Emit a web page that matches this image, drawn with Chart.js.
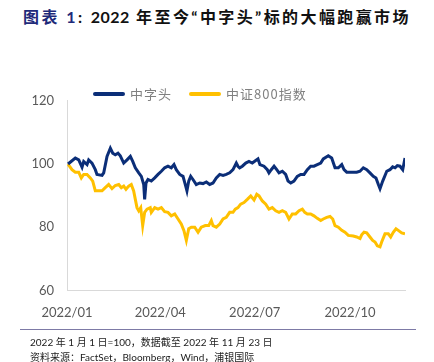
<!DOCTYPE html>
<html>
<head>
<meta charset="utf-8">
<script src="https://cdn.jsdelivr.net/npm/chart.js@4.4.0/dist/chart.umd.min.js"></script>
<style>
  html, body { margin: 0; padding: 0; background: #fff; }
  body { width: 434px; height: 362px; position: relative; overflow: hidden; font-family: "Lato", "Noto Sans CJK SC", sans-serif; }
  #title { position: absolute; left: 0; top: 4px; width: 434px; text-align: center; font-size: 16px; font-weight: bold; color: #111; letter-spacing: 2.4px; white-space: nowrap; }
  #title .tag { color: #1f2a7a; }
  #title .num { letter-spacing: 0.5px; }
  #wrap { position: absolute; left: 0; top: 80px; width: 434px; height: 256px; }
  #legend { position: absolute; top: 84px; left: 93px; font-family: "Noto Sans CJK SC", sans-serif; font-size: 13px; color: #808080; letter-spacing: 1px; display: flex; align-items: center; white-space: nowrap; }
  #legend .ln { display: inline-block; width: 32px; height: 4px; border-radius: 2px; margin-right: 5px; }
  #legend .item { display: flex; align-items: center; margin-right: 17px; }
  #rule { position: absolute; left: 20px; top: 329px; width: 396px; height: 0; border-top: 1.5px solid #7d7aa6; }
  .note { position: absolute; left: 30px; font-size: 10px; color: #222; white-space: nowrap; }
</style>
</head>
<body>
<div id="title"><span class="tag">图表 1</span>: <span class="num">2022</span> 年至今“中字头”标的大幅跑赢市场</div>
<div id="wrap"><canvas id="chart"></canvas></div>
<div id="legend"></div>
<div id="rule"></div>
<div class="note" style="top:334px">2022 年 1 月 1 日=100，数据截至 2022 年 11 月 23 日</div>
<div class="note" style="top:349px">资料来源：FactSet，Bloomberg，Wind，浦银国际</div>
<script>
// days since 2022-01-01
const seriesNames = ["中字头", "中证800指数"];
const seriesColors = ["#0b2e78", "#ffc000"];

const blueDays = [1, 8, 11.3, 14.5, 16.1, 19.3, 20.9, 24.1, 27.3, 28.9, 33.8, 35.4, 38.6, 41.8, 44.1, 46.6, 49.2, 51.4, 54.7, 57.9,
  61.1, 63.4, 65.9, 69.2, 71.7, 74, 74.9, 76.2, 78.1, 81.3, 84.6, 87.8, 91, 94.2, 97.4, 100.6, 103.2, 105.4, 108.7, 111.9,
  114.1, 115.7, 117.4, 119.3, 121.5, 124.7, 128, 131.2, 134.4, 137.6, 140.8, 144, 147.3, 150.5, 153.6, 156.9, 160.1, 163.3, 164.9, 166.5,
  169.1, 172.4, 175.5, 178.7, 182, 184.2, 186.1, 190, 193.2, 194.8, 197, 199.7, 202.3, 204.5, 207.7, 210.9, 213.2, 215.8, 218.9, 222.1,
  225.4, 228.6, 231.8, 235, 238.2, 241.4, 244.7, 247.2, 252, 255.3, 258.5, 261.7, 265, 267.2, 269.8, 274.6, 279.4, 282.6, 285.8, 289.1,
  292.2, 295.4, 298, 300.3, 301.9, 304.5, 308.4, 311.5, 314.1, 316.4, 318.6, 321.2, 323.8, 326];
const blueVals = [100, 101.9, 101.3, 99, 100.8, 99.8, 101.3, 100.3, 98.2, 96.7, 96.4, 97.2, 102.4, 105, 103.4, 102.9, 103.4, 102.6, 100.3, 101.3,
  102.4, 100.8, 98.8, 97.2, 96.1, 93.5, 88.8, 94, 95.1, 94.6, 95.6, 96.7, 97.7, 98.8, 99.3, 98.8, 99.8, 98.2, 96.7, 96.1,
  93.5, 91.5, 94.6, 96.1, 95.1, 93.5, 94, 93.8, 94.3, 93.5, 94, 95.6, 96.7, 96.4, 96.7, 97.2, 98.2, 100.3, 99.3, 98.8,
  99.3, 100.3, 100.8, 100.3, 101.1, 101.6, 99.8, 99.3, 98.2, 97.2, 98.2, 99.3, 98.2, 97.2, 97.7, 96.7, 94.6, 94, 94.6, 96.1,
  96.7, 96.7, 98.2, 99.3, 99.3, 99.8, 100.3, 101.6, 102.6, 101.9, 98.8, 98.8, 99.8, 98.2, 97.4, 97.4, 97.4, 97.7, 98.8, 98.2,
  97.2, 96.1, 95.6, 93.5, 92.2, 94.6, 97.7, 98.2, 99.1, 98.8, 99.5, 99.3, 98.2, 101.9];

const goldDays = [1, 4.8, 8, 11.3, 13.8, 16.1, 19.3, 22.5, 24.8, 27.3, 30.6, 33.8, 36.9, 40.2, 43.4, 46.6, 49.9, 52.4, 54.7, 56.9,
  59.5, 62, 64.3, 65.9, 67.5, 69.2, 71.1, 73, 74.9, 77.2, 80.3, 81.3, 84.6, 87.8, 91, 94.2, 97.4, 100.6, 103.9, 107.1,
  110.2, 112.8, 115.1, 117.4, 119.9, 123.2, 126.4, 129.5, 133.4, 136.7, 139.2, 140.8, 144, 147.3, 150.5, 153.6, 156.9, 160.1, 162.3, 164.9,
  167.5, 170.7, 173.9, 177.2, 180.4, 183, 185.2, 188.4, 191.7, 194.8, 198, 201.3, 204.5, 207.7, 210.9, 214.1, 217.3, 220.6, 223.8, 227,
  229.3, 231.8, 235, 238.2, 241.4, 244.7, 247.2, 250.5, 253.7, 256.3, 258.5, 261.7, 265, 268.1, 271.3, 276.1, 279.4, 282.6, 284.2, 286.5,
  289.1, 292.2, 294.8, 297.1, 299.3, 301.9, 303.5, 306.7, 309.9, 312.2, 314.7, 317.3, 319.5, 322.8, 326];
const goldVals = [100, 98.2, 97.4, 97.4, 95.6, 96.7, 96.7, 95.6, 94.6, 91.5, 91.5, 91.5, 92.5, 93.5, 92.2, 93.2, 93.5, 92.5, 93, 92,
  93, 93.5, 91.5, 88.8, 86.2, 85.2, 86.2, 80.5, 84.7, 85.7, 86.2, 84.7, 86.2, 85.7, 86.2, 84.9, 84.7, 83.6, 84.2, 82.6,
  81, 78.9, 75.8, 79.5, 80, 80, 78.4, 80, 80.5, 80.5, 82.1, 80.5, 80, 81, 82.6, 83.1, 84.7, 84.7, 85.7, 86.2,
  87.3, 87.8, 88.8, 89.9, 88.6, 90.4, 89.9, 88.3, 87.3, 85.7, 86.2, 85.2, 84.7, 85.2, 84.7, 82.6, 84.2, 84.2, 85.2, 85.7,
  84.7, 84.2, 84.2, 83.6, 82.8, 82.1, 82.6, 83.1, 83.4, 82.6, 80.5, 80, 79, 78.4, 77.4, 77.2, 76.9, 76.4, 77.6, 78.4,
  78.2, 76.9, 75.8, 75.3, 74.1, 73.8, 75.3, 77.9, 77.9, 76.9, 78.4, 79.5, 79, 78.2, 77.9];

const tickDays = [0, 90, 181, 273];
const tickLabels = ["2022/01", "2022/04", "2022/07", "2022/10"];
const yTicks = [60, 80, 100, 120];

function toPoints(xs, ys) {
    return xs.map((x, i) => ({ x: x, y: ys[i] }));
}

// HTML legend
const legend = document.getElementById("legend");
seriesNames.forEach((name, i) => {
    legend.innerHTML += `<span class="item"><span class="ln" style="background:${seriesColors[i]}"></span>${name}</span>`;
});

const tickFont = { family: "Lato, 'Noto Sans CJK SC', sans-serif", size: 13 };

const ctx = document.getElementById("chart").getContext("2d");
const chart = new Chart(ctx, {
    type: "line",
    data: {
        datasets: [
            { label: seriesNames[0], data: toPoints(blueDays, blueVals), borderColor: seriesColors[0], borderWidth: 3, pointRadius: 0, tension: 0 },
            { label: seriesNames[1], data: toPoints(goldDays, goldVals), borderColor: seriesColors[1], borderWidth: 3, pointRadius: 0, tension: 0 }
        ]
    },
    options: {
        responsive: true,
        maintainAspectRatio: false,
        animation: false,
        layout: { padding: { top: 11, right: 29, left: 0, bottom: 0 } },
        plugins: {
            legend: { display: false },
            tooltip: { enabled: false }
        },
        scales: {
            x: {
                type: "linear",
                min: 0,
                max: 326,
                grid: { display: false, drawTicks: false },
                border: { display: true, color: "#d9d9d9", width: 1 },
                afterBuildTicks: (scale) => { scale.ticks = tickDays.map(v => ({ value: v })); },
                ticks: {
                    color: "#595959",
                    font: tickFont,
                    padding: 15,
                    maxRotation: 0,
                    autoSkip: false,
                    callback: (v) => tickLabels[tickDays.indexOf(v)]
                }
            },
            y: {
                min: 60,
                max: 120,
                afterFit: (scale) => { scale.width = 67; },
                afterBuildTicks: (scale) => { scale.ticks = yTicks.map(v => ({ value: v })); },
                grid: { display: false, drawTicks: false },
                border: { display: true, color: "#d9d9d9", width: 1 },
                ticks: { color: "#595959", font: tickFont, padding: 13 }
            }
        }
    }
});
</script>
</body>
</html>
